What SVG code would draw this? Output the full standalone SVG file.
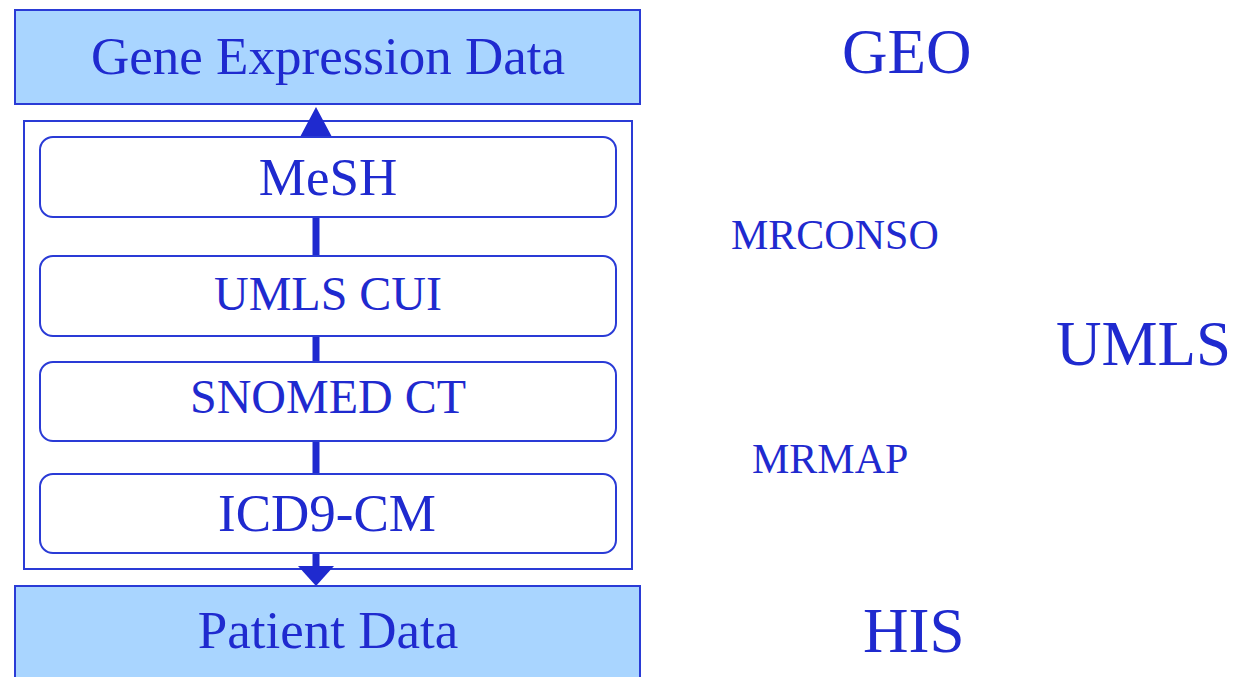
<svg xmlns="http://www.w3.org/2000/svg" width="1239" height="677" viewBox="0 0 1239 677">
  <style>
    .data { fill: #A9D5FF; stroke: #2A3BD6; stroke-width: 2; }
    .term { fill: #FFFFFF; stroke: #2A3BD6; stroke-width: 2; }
    .frame { fill: none; stroke: #2A3BD6; stroke-width: 2; }
    text { font-family: "Liberation Serif", "Times New Roman", serif; fill: #1F2ACF; }
    .big { font-size: 53px; text-anchor: middle; }
    .mid { font-size: 48px; text-anchor: middle; }
    .side { font-size: 63px; }
    .table { font-size: 42px; }
    .link { stroke: #1F2ACF; stroke-width: 7; fill: none; }
    .head { fill: #1F2ACF; stroke: none; }
  </style>

  <!-- outer frame holding the vocabulary chain -->
  <rect class="frame" x="24" y="121" width="608" height="448"/>

  <!-- connectors -->
  <g id="connectors">
    <line class="link" x1="316" y1="217" x2="316" y2="256"/>
    <line class="link" x1="316" y1="336" x2="316" y2="362"/>
    <line class="link" x1="316" y1="441" x2="316" y2="474"/>
    <line class="link" x1="316" y1="553" x2="316" y2="568"/>
    <polygon class="head" points="316,107 332,137 300,137"/>
    <polygon class="head" points="316,586 334,566 298,566"/>
  </g>

  <g id="gene-expression">
    <rect class="data" x="15" y="10" width="625" height="94"/>
    <text class="big" x="328" y="74">Gene Expression Data</text>
  </g>

  <g id="mesh">
    <rect class="term" x="40" y="137" width="576" height="80" rx="13"/>
    <text class="big" x="328" y="195">MeSH</text>
  </g>

  <g id="umls-cui">
    <rect class="term" x="40" y="256" width="576" height="80" rx="13"/>
    <text class="mid" x="328" y="310">UMLS CUI</text>
  </g>

  <g id="snomed-ct">
    <rect class="term" x="40" y="362" width="576" height="79" rx="13"/>
    <text class="mid" x="328" y="413">SNOMED CT</text>
  </g>

  <g id="icd9-cm">
    <rect class="term" x="40" y="474" width="576" height="79" rx="13"/>
    <text class="big" x="327" y="531">ICD9-CM</text>
  </g>

  <g id="patient">
    <rect class="data" x="15" y="586" width="625" height="100"/>
    <text class="big" x="328" y="648">Patient Data</text>
  </g>

  <!-- source labels on the right -->
  <g id="geo"><text class="side" x="842" y="73">GEO</text></g>
  <g id="mrconso"><text class="table" x="731" y="249">MRCONSO</text></g>
  <g id="umls"><text class="side" x="1056" y="365">UMLS</text></g>
  <g id="mrmap"><text class="table" x="752" y="473">MRMAP</text></g>
  <g id="his"><text class="side" x="863" y="652">HIS</text></g>
</svg>
